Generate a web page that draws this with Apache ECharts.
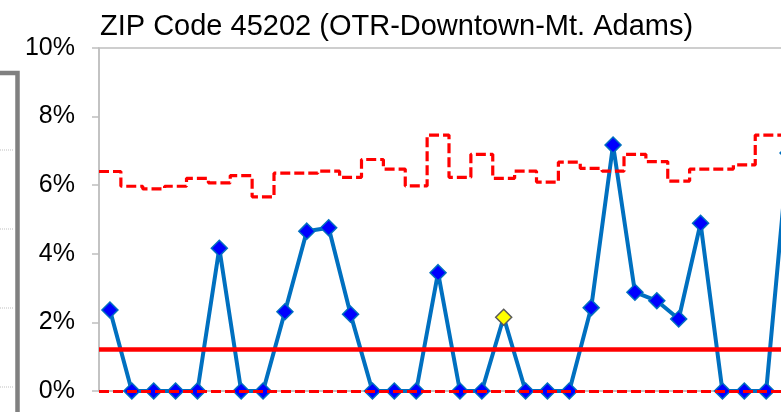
<!DOCTYPE html>
<html>
<head>
<meta charset="utf-8">
<script src="https://cdn.jsdelivr.net/npm/echarts@6/dist/echarts.min.js"></script>
<style>
  html, body { margin: 0; padding: 0; background: #fff; }
  #chart { width: 781px; height: 412px; }
</style>
</head>
<body>
<div id="chart"></div>
<script>
// monthly rate (%), one point per period
var rates = [2.36, 0, 0, 0, 0, 4.16, 0, 0, 2.31, 4.66, 4.76, 2.24, 0, 0, 0, 3.45,
             0, 0, 2.15, 0, 0, 0, 2.43, 7.17, 2.88, 2.63, 2.10, 4.89, 0, 0, 0, 6.94];
// upper control limit (%), per period
var ucl = [6.40, 5.97, 5.89, 5.97, 6.20, 6.07, 6.28, 5.66, 6.35, 6.35, 6.41, 6.23, 6.75, 6.47, 5.98, 7.46,
           6.23, 6.90, 6.20, 6.41, 6.09, 6.67, 6.49, 6.41, 6.90, 6.69, 6.12, 6.47, 6.47, 6.59, 7.46, 7.46];
var centerLine = 1.22;
var lowerLimit = 0;
var flagged = [18];   // points shown in yellow
var yTicks = [0, 2, 4, 6, 8, 10];
var periods = rates.map(function (v, i) { return "P" + (i + 1); });

var chart = echarts.init(document.getElementById("chart"));

// step line needs a closing point at the right edge of the last band
var uclSteps = ucl.map(function (u, i) { return [i, u]; });
uclSteps.push([ucl.length, ucl[ucl.length - 1]]);

var rateData = rates.map(function (v, i) {
    if (flagged.indexOf(i) >= 0) {
        return { value: v, itemStyle: { color: "#FFFF00", borderColor: "#595959" } };
    }
    return v;
});

var option = {
    animation: false,
    title: {
        text: "ZIP Code 45202 (OTR-Downtown-Mt. Adams)",
        left: 100,
        top: 12,
        padding: 0,
        textStyle: {
            fontFamily: "Liberation Sans",
            fontSize: 29,
            fontWeight: "normal",
            color: "#000"
        }
    },
    grid: {
        left: 99,
        top: 48,
        width: 700,
        height: 343,
        outerBoundsMode: "none",
        containLabel: false,
        show: true,
        borderColor: "#BFBFBF",
        borderWidth: 1.5
    },
    xAxis: [
        {
            type: "category",
            data: periods,
            boundaryGap: true,
            axisLine: { lineStyle: { color: "#BFBFBF", width: 1.5 } },
            axisTick: { show: false },
            axisLabel: { show: false }
        },
        {
            type: "value",
            min: 0,
            max: rates.length,
            show: false
        }
    ],
    yAxis: {
        type: "value",
        min: yTicks[0],
        max: yTicks[yTicks.length - 1],
        interval: 2,
        axisLine: { show: true, lineStyle: { color: "#BFBFBF", width: 1.5 } },
        axisTick: { show: true, length: 7, lineStyle: { color: "#BFBFBF", width: 1.5 } },
        splitLine: { show: false },
        axisLabel: {
            margin: 24,
            fontFamily: "Liberation Sans",
            fontSize: 25,
            color: "#000",
            formatter: "{value}%"
        }
    },
    series: [
        {
            name: "Rate",
            type: "line",
            xAxisIndex: 0,
            data: rateData,
            symbol: "diamond",
            symbolSize: 16,
            showSymbol: true,
            showAllSymbol: true,
            lineStyle: { color: "#0070C0", width: 4 },
            itemStyle: { color: "#0000FF", borderColor: "#0070C0", borderWidth: 1.5 }
        },
        {
            name: "UCL",
            type: "line",
            xAxisIndex: 1,
            data: uclSteps,
            step: "end",
            showSymbol: false,
            symbol: "none",
            lineStyle: { color: "#FF0000", width: 3.2, type: [10, 4] },
            markLine: {
                silent: true,
                symbol: "none",
                label: { show: false },
                data: [
                    { yAxis: centerLine, lineStyle: { color: "#FF0000", width: 4.5, type: "solid" } },
                    { yAxis: lowerLimit, lineStyle: { color: "#FF0000", width: 3.2, type: [10, 4] } }
                ]
            }
        }
    ],
    graphic: [
        // frame and dotted gridlines of the neighbouring chart, cut off at the left edge
        {
            type: "polyline",
            shape: { points: [[-2, 73], [17.5, 73], [17.5, 420]] },
            style: { stroke: "#808080", lineWidth: 4.5, fill: null }
        },
        { type: "line", shape: { x1: 0, y1: 150, x2: 14, y2: 150 }, style: { stroke: "#BFBFBF", lineWidth: 1, lineDash: [1, 1] } },
        { type: "line", shape: { x1: 0, y1: 229, x2: 14, y2: 229 }, style: { stroke: "#BFBFBF", lineWidth: 1, lineDash: [1, 1] } },
        { type: "line", shape: { x1: 0, y1: 308, x2: 14, y2: 308 }, style: { stroke: "#BFBFBF", lineWidth: 1, lineDash: [1, 1] } },
        { type: "line", shape: { x1: 0, y1: 387, x2: 14, y2: 387 }, style: { stroke: "#BFBFBF", lineWidth: 1, lineDash: [1, 1] } }
    ]
};

chart.setOption(option);
</script>
</body>
</html>
